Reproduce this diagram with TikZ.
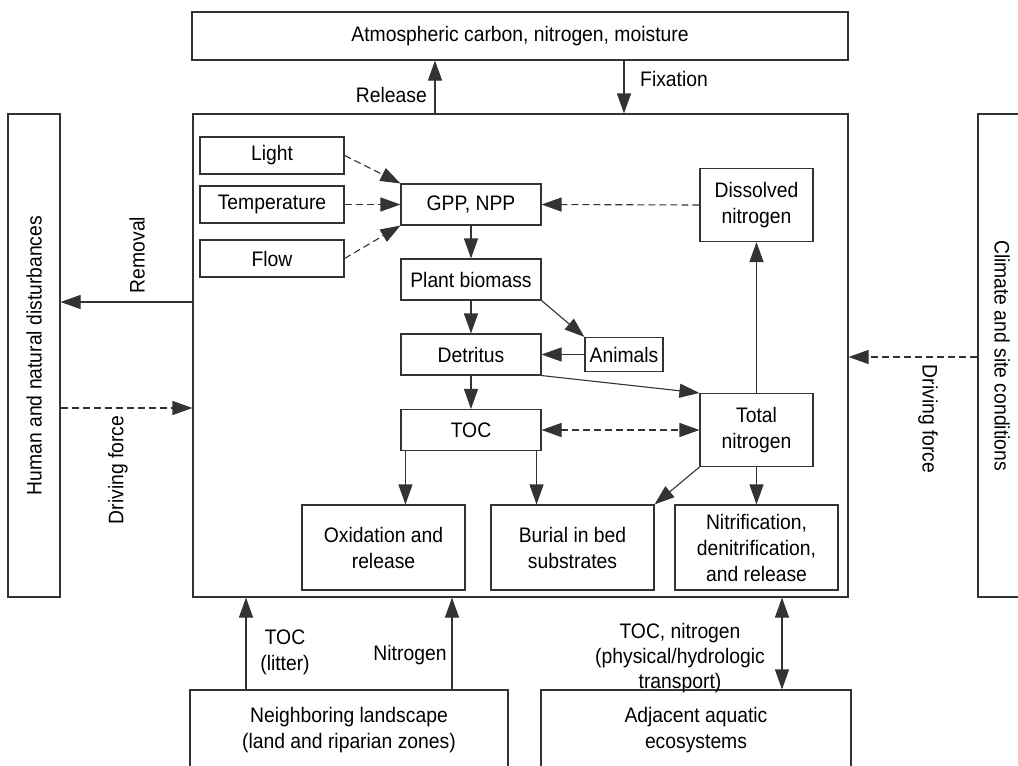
\documentclass[tikz,border=0pt]{standalone}
\usepackage{fontspec}
\setmainfont{Liberation Sans}[FakeStretch=0.92]
\usetikzlibrary{arrows.meta}

\tikzset{
  box/.style={draw=black!80, line width=1.1pt, align=center, inner sep=2pt},
  arr/.style={draw=black!80, line width=1.1pt, -{Triangle[length=20pt,width=14pt]}},
  darr/.style={arr, dash pattern=on 7pt off 4pt},
  lbl/.style={align=center, inner sep=0pt},
}

\begin{document}
\begin{tikzpicture}[x=1pt, y=-1pt, font=\fontsize{21}{26}\selectfont]
  \useasboundingbox (0,0) rectangle (1018,766);

  %% ==== x / y positions of the side arrows ====
  \coordinate (cRel) at (435,0);
  \coordinate (cFix) at (624,0);
  \coordinate (cRem) at (0,302);
  \coordinate (cDrvL) at (0,408);
  \coordinate (cDrvR) at (0,357);
  \coordinate (cToc) at (246,0);
  \coordinate (cNit) at (452,0);
  \coordinate (cTrn) at (782,0);

  %% ==== outer boxes ====
  \node[box, minimum width=656pt, minimum height=48pt] (atm) at (520,36) {Atmospheric carbon, nitrogen, moisture};
  \node[box, minimum width=655pt, minimum height=483pt] (main) at (520.5,355.5) {};
  \node[box, minimum width=52pt, minimum height=483pt] (hum) at (34,355.5) {};
  \node[lbl, rotate=90] (humTxt) at (hum.center) {Human and natural disturbances};
  \node[box, minimum width=52pt, minimum height=483pt] (cli) at (1004,355.5) {};
  \node[lbl, rotate=-90] (cliTxt) at (1002,355.5) {Climate and site conditions};
  \node[box, minimum width=318pt, minimum height=80pt] (land) at (349,730) {Neighboring landscape\\(land and riparian zones)};
  \node[box, minimum width=310pt, minimum height=80pt] (adj) at (696,730) {Adjacent aquatic\\ecosystems};

  %% ==== inner boxes ====
  \node[box, minimum width=144pt, minimum height=37pt] (light) at (272,155.5) {Light};
  \node[box, minimum width=144pt, minimum height=37pt] (temp) at (272,204.5) {Temperature};
  \node[box, minimum width=144pt, minimum height=37pt] (flw) at (272,258.5) {Flow};
  \node[box, minimum width=140pt, minimum height=41pt] (gpp) at (471,204.5) {GPP, NPP};
  \node[box, minimum width=140pt, minimum height=41pt] (plant) at (471,279.5) {Plant biomass};
  \node[box, minimum width=140pt, minimum height=41pt] (detr) at (471,354.5) {Detritus};
  \node[box, minimum width=140pt, minimum height=41pt] (toc) at (471,430) {TOC};
  \node[box, minimum width=78pt, minimum height=34pt] (anim) at (624,354.5) {Animals};
  \node[box, minimum width=113pt, minimum height=73pt] (dis) at (756.5,205) {Dissolved\\nitrogen};
  \node[box, minimum width=113pt, minimum height=73pt] (tot) at (756.5,430) {Total\\nitrogen};
  \node[box, minimum width=163pt, minimum height=85pt] (oxi) at (383.5,547.5) {Oxidation and\\release};
  \node[box, minimum width=163pt, minimum height=85pt] (bur) at (572.5,547.5) {Burial in bed\\substrates};
  \node[box, minimum width=163pt, minimum height=85pt] (nit) at (756.5,547.5) {Nitrification,\\denitrification,\\and release};

  %% ==== labels ====
  \node[lbl, anchor=east] (relLbl) at (427,95) {Release};
  \node[lbl, anchor=west] (fixLbl) at (640,79) {Fixation};
  \node[lbl, rotate=90] (remLbl) at (137,255) {Removal};
  \node[lbl, rotate=90] (drvLblL) at (118,470) {Driving force};
  \node[lbl, rotate=-90] (drvLblR) at (928,419) {Driving force};
  \node[lbl] (tocLbl) at (285,652) {TOC\\(litter)};
  \node[lbl] (nitLbl) at (410,655) {Nitrogen};
  \node[lbl, font=\fontsize{21}{25}\selectfont] (trnLbl) at (680,658) {TOC, nitrogen\\(physical/hydrologic\\transport)};

  %% ==== exchanges with the surroundings ====
  \draw[arr] (main.north -| cRel) -- (atm.south -| cRel);
  \draw[arr] (atm.south -| cFix) -- (main.north -| cFix);
  \draw[arr] (main.west |- cRem) -- (hum.east |- cRem);
  \draw[darr] (hum.east |- cDrvL) -- (main.west |- cDrvL);
  \draw[darr] (cli.west |- cDrvR) -- (main.east |- cDrvR);
  \draw[arr] (land.north -| cToc) -- (main.south -| cToc);
  \draw[arr] (land.north -| cNit) -- (main.south -| cNit);
  \draw[arr, {Triangle[length=20pt,width=14pt]}-{Triangle[length=20pt,width=14pt]}] (main.south -| cTrn) -- (adj.north -| cTrn);

  %% ==== inside the stream ====
  \draw[darr] (light.east) -- (gpp.north west);
  \draw[darr] (temp.east) -- (gpp.west);
  \draw[darr] (flw.east) -- (gpp.south west);
  \draw[darr] (dis.west) -- (gpp.east);
  \draw[arr] (gpp.south) -- (plant.north);
  \draw[arr] (plant.south) -- (detr.north);
  \draw[arr] (detr.south) -- (toc.north);
  \draw[arr] (plant.south east) -- (anim.north west);
  \draw[arr] (anim.west) -- (detr.east);
  \draw[arr] (detr.south east) -- (tot.north west);
  \draw[darr, {Triangle[length=20pt,width=14pt]}-{Triangle[length=20pt,width=14pt]}] (toc.east) -- (tot.west);
  \draw[arr] (tot.north) -- (dis.south);
  \draw[arr] (tot.south) -- (nit.north);
  \draw[arr] (tot.south west) -- (bur.north east);
  \draw[arr] ([xshift=5pt]toc.south west) -- ([xshift=5pt]toc.south west |- oxi.north);
  \draw[arr] ([xshift=-5pt]toc.south east) -- ([xshift=-5pt]toc.south east |- bur.north);
\end{tikzpicture}
\end{document}
